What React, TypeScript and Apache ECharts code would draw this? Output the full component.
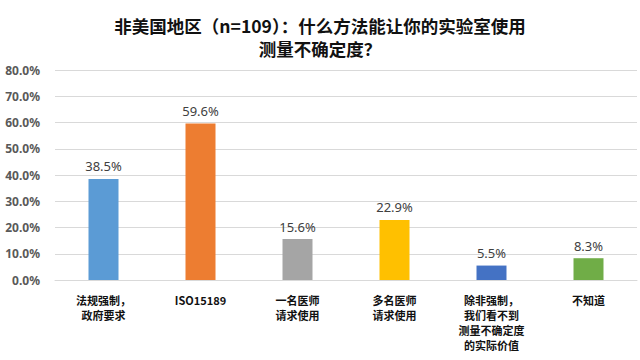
import React, { useEffect, useRef } from "react";
import * as echarts from "echarts";

const titleText = "非美国地区（n=109）：什么方法能让你的实验室使用\n测量不确定度？";
const categories = [
  "法规强制，\n政府要求",
  "ISO15189",
  "一名医师\n请求使用",
  "多名医师\n请求使用",
  "除非强制，\n我们看不到\n测量不确定度\n的实际价值",
  "不知道",
];
const values = [38.5, 59.6, 15.6, 22.9, 5.5, 8.3];
const colors = ["#5B9BD5", "#ED7D31", "#A5A5A5", "#FFC000", "#4472C4", "#70AD47"];

export default function App() {
  const ref = useRef<HTMLDivElement>(null);
  useEffect(() => {
    if (!ref.current) return;
    const chart = echarts.init(ref.current, null, { renderer: "svg" });
    chart.setOption({
      animation: false,
      backgroundColor: "#ffffff",
      title: {
        text: titleText,
        left: "center",
        top: 9,
        textStyle: {
          fontFamily: "Noto Sans CJK SC",
          fontSize: 17.5,
          fontWeight: "bold",
          color: "#111111",
          lineHeight: 23,
        },
      },
      grid: { left: 55, right: 3, top: 70, bottom: 80, containLabel: false },
      xAxis: {
        type: "category",
        data: categories,
        axisTick: { show: false },
        axisLine: { lineStyle: { color: "#d9d9d9", width: 1 } },
        axisLabel: {
          interval: 0,
          margin: 12,
          fontFamily: "Noto Sans CJK SC",
          fontSize: 11,
          fontWeight: "bold",
          color: "#111111",
          lineHeight: 15,
        },
      },
      yAxis: {
        type: "value",
        min: 0,
        max: 80,
        interval: 10,
        axisLabel: {
          formatter: (v: number) => v.toFixed(1) + "%",
          fontFamily: "Noto Sans",
          fontSize: 12,
          fontWeight: "bold",
          color: "#595959",
          margin: 15,
        },
        splitLine: { lineStyle: { color: "#d9d9d9", width: 1 } },
        axisLine: { show: false },
        axisTick: { show: false },
      },
      series: [
        {
          type: "bar",
          barWidth: 30,
          data: values.map((v, i) => ({
            value: v,
            itemStyle: { color: colors[i] },
          })),
          label: {
            show: true,
            position: "top",
            distance: 6,
            formatter: (p: any) => p.value.toFixed(1) + "%",
            fontFamily: "Noto Sans",
            fontSize: 13,
            color: "#404040",
          },
        },
      ],
    });
    return () => chart.dispose();
  }, []);
  return <div ref={ref} style={{ width: 640, height: 360, position: "absolute", left: 0, top: 0 }} />;
}
